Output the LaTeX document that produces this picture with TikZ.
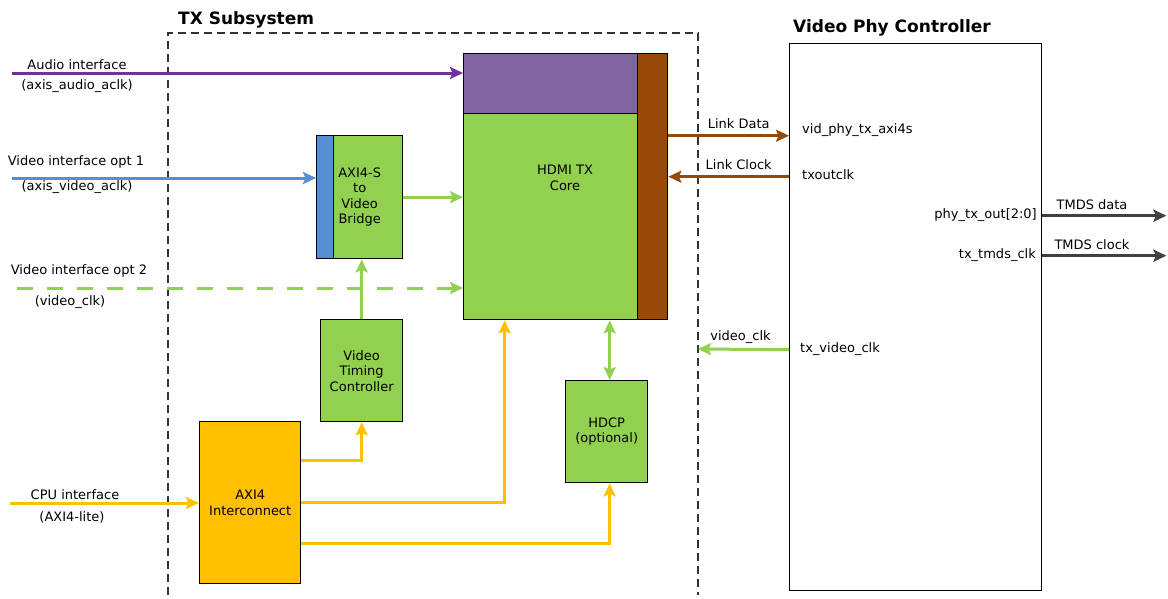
\documentclass[tikz,border=0pt]{standalone}
\usepackage{fontspec}
\setmainfont{DejaVu Sans}
\usetikzlibrary{arrows.meta}

\definecolor{hgreen}{HTML}{92D050}
\definecolor{hpurple}{HTML}{8064A2}
\definecolor{audioline}{HTML}{7030A0}
\definecolor{vblue}{HTML}{558ED5}
\definecolor{hbrown}{HTML}{984807}
\definecolor{cpuyellow}{HTML}{FFC000}
\definecolor{tmdsgrey}{HTML}{404040}

\begin{document}
\begin{tikzpicture}[x=1pt, y=-1pt,
    blk/.style={draw=black, line width=1.4pt, anchor=north west, inner sep=0pt, align=center, font=\fontsize{13}{15.5}\selectfont},
    wire/.style={line width=3pt, -{Stealth[length=13pt, width=12pt, inset=2.5pt]}},
    lbl/.style={font=\fontsize{13}{15}\selectfont, inner sep=0pt, text=black},
    ttl/.style={font=\bfseries\fontsize{17}{19}\selectfont, inner sep=0pt, anchor=west}]
    \useasboundingbox (0,0) rectangle (1168,598);

    % TX subsystem frame (open at the bottom)
    \draw[line width=1.3pt, black!80, dash pattern=on 8pt off 5pt] (168,595) |- (698,33) -- (698,595);
    \node[ttl] (txtitle) at (178,20) {TX Subsystem};
    \node[ttl] (phytitle) at (793,28) {Video Phy Controller};

    % blocks
    \node[blk, fill=hgreen, minimum width=204pt, minimum height=266pt] (core) at (463,53) {};
    \node[blk, fill=hpurple, minimum width=174pt, minimum height=60pt] (coretop) at (463,53) {};
    \node[blk, fill=hbrown, minimum width=30pt, minimum height=266pt] (corebar) at (637,53) {};
    \node[lbl, align=center, font=\fontsize{13}{15.5}\selectfont] (coretxt) at (565,178) {HDMI TX\\Core};
    \node[blk, fill=hgreen, minimum width=86pt, minimum height=123pt] (bridge) at (316,135) {};
    \node[blk, fill=vblue, minimum width=17pt, minimum height=123pt] (bridgebar) at (316,135) {};
    \node[lbl, align=center, font=\fontsize{13}{15.5}\selectfont] (bridgetxt) at (bridge.center) {AXI4-S\\to\\Video\\Bridge};
    \node[blk, fill=hgreen, minimum width=82pt, minimum height=102pt] (vtc) at (320,319) {Video\\Timing\\Controller};
    \node[blk, fill=hgreen, minimum width=82pt, minimum height=102pt] (hdcp) at (565,380) {HDCP\\(optional)};
    \node[blk, fill=cpuyellow, minimum width=101pt, minimum height=162pt] (axi) at (199,421) {AXI4\\Interconnect};
    \node[blk, fill=white, minimum width=252pt, minimum height=547pt] (phy) at (789,43) {};

    % inputs on the left
    \coordinate (audioin) at (12,73);
    \coordinate (vid1in) at (12,178);
    \coordinate (vid2in) at (17,288);
    \coordinate (cpuin) at (10,503);
    \draw[wire, audioline] (audioin) -- (audioin -| core.west);
    \node[lbl] (audiolbl) at (77,65) {Audio interface};
    \node[lbl] (audioclk) at (77,86) {(axis\_audio\_aclk)};
    \draw[wire, vblue] (vid1in) -- (vid1in -| bridge.west);
    \node[lbl] (vid1lbl) at (76,162) {Video interface opt 1};
    \node[lbl] (vid1clk) at (77,187) {(axis\_video\_aclk)};
    \draw[wire, hgreen, dash pattern=on 16pt off 14pt] (vid2in) -- (vid2in -| core.west);
    \node[lbl] (vid2lbl) at (79,271) {Video interface opt 2};
    \node[lbl] (vid2clk) at (70,302) {(video\_clk)};
    \draw[wire, cpuyellow] (cpuin) -- (cpuin -| axi.west);
    \node[lbl] (cpulbl) at (75,495) {CPU interface};
    \node[lbl] (cpuclk) at (72,517) {(AXI4-lite)};

    % inside the subsystem
    \draw[wire, hgreen] (bridge.east) -- (bridge.east -| core.west);
    \draw[wire, hgreen] (vtc.north) -- (vtc.north |- bridge.south);
    \draw[wire, hgreen, {Stealth[length=13pt, width=12pt, inset=2.5pt]}-{Stealth[length=13pt, width=12pt, inset=2.5pt]}] ([xshift=3pt]hdcp.north) -- ([xshift=3pt]hdcp.north |- core.south);
    \draw[wire, cpuyellow] ([yshift=42pt]axi.east) -| (vtc.south);
    \draw[wire, cpuyellow] (axi.east) -| ([xshift=-61pt]core.south);
    \draw[wire, cpuyellow] ([yshift=-41pt]axi.east) -| ([xshift=3pt]hdcp.south);

    % links to the phy
    \draw[wire, hbrown] ([yshift=51pt]corebar.east) -- ([yshift=51pt]corebar.east -| phy.west) node[lbl, midway, above=6pt, xshift=10pt] (linkdata) {Link Data};
    \draw[wire, hbrown] ([yshift=10pt]corebar.east -| phy.west) -- ([yshift=10pt]corebar.east) node[lbl, midway, above=6pt, xshift=10pt] (linkclk) {Link Clock};
    \coordinate (txedge) at (698,349);
    \draw[wire, hgreen] ([yshift=-32.5pt]phy.west) -- (txedge) node[lbl, midway, above=4pt, xshift=-3pt] (vclklbl) {video\_clk};

    % phy ports
    \node[lbl, anchor=west] (pdata) at (802,130) {vid\_phy\_tx\_axi4s};
    \node[lbl, anchor=west] (pclk) at (802,175) {txoutclk};
    \node[lbl, anchor=west] (pvclk) at (800,349) {tx\_video\_clk};
    \node[lbl, anchor=east] (pout) at (1037,215) {phy\_tx\_out[2:0]};
    \node[lbl, anchor=east] (ptmds) at (1036,255) {tx\_tmds\_clk};

    % TMDS outputs
    \draw[wire, tmdsgrey] ([yshift=101.5pt]phy.east) -- ++(124,0) node[lbl, pos=0.4, above=5pt] (tmdsdata) {TMDS data};
    \draw[wire, tmdsgrey] ([yshift=61.5pt]phy.east) -- ++(124,0) node[lbl, pos=0.4, above=5pt] (tmdsclk) {TMDS clock};
\end{tikzpicture}
\end{document}
